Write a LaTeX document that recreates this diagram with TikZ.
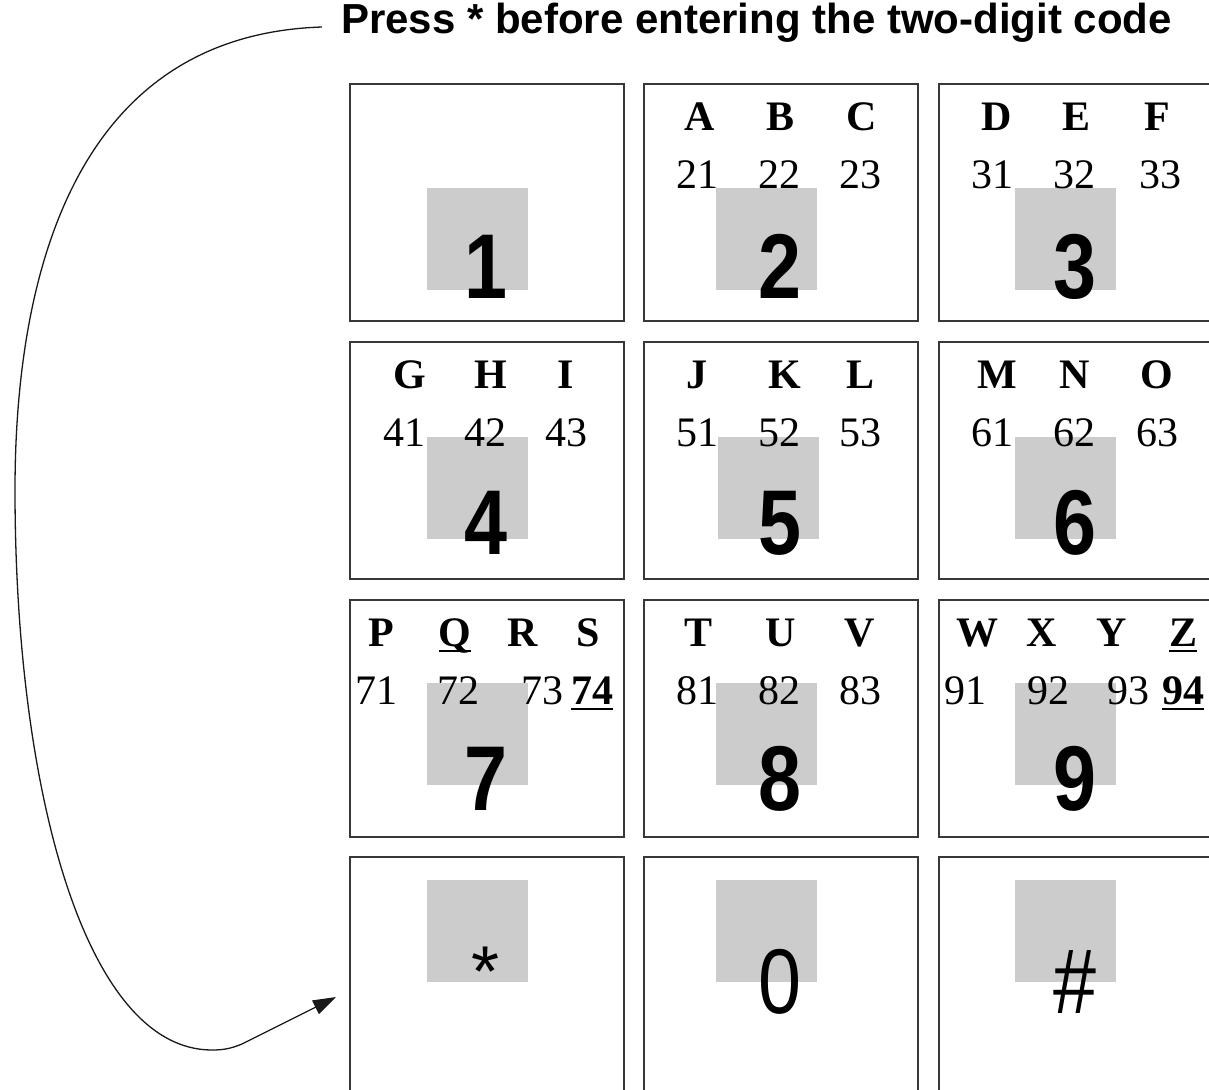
\documentclass[tikz,border=0pt]{standalone}
\usepackage{fontspec}
\setmainfont{Liberation Serif}
\newfontfamily\arialfont{Liberation Sans}
\usetikzlibrary{arrows.meta}
\newcommand\myul[1]{\setbox0\hbox{#1}\rlap{\rule[-6pt]{\wd0}{2.4pt}}\box0}
\newcommand\bigdig[1]{\scalebox{0.84}[1]{#1}}
\begin{document}
\begin{tikzpicture}[x=1pt,y=-1pt,
  keybox/.style={draw=black!78, line width=2pt, anchor=north west, inner sep=0pt,
                 minimum width=274pt, minimum height=237pt},
  graysq/.style={fill=black!20, anchor=north west, inner sep=0pt,
                 minimum width=101pt, minimum height=102pt},
  letter/.style={anchor=base, inner sep=0pt, font=\fontsize{42}{48}\selectfont\bfseries},
  num/.style={anchor=base, inner sep=0pt, font=\fontsize{42}{48}\selectfont},
  bignum/.style={anchor=base, inner sep=0pt, font=\arialfont\fontsize{92}{92}\selectfont\bfseries},
  bigsym/.style={anchor=base, inner sep=0pt, font=\arialfont\fontsize{92}{92}\selectfont},
  titlestyle/.style={anchor=base west, inner sep=0pt, font=\arialfont\bfseries\fontsize{42}{48}\selectfont},
  conn/.style={draw=black!90, line width=1.3pt, -{Triangle[length=23pt,width=15pt]}}
]
\useasboundingbox (0,0) rectangle (1209,1089);
\clip (0,0) rectangle (1209,1089);

% key boxes
\node[keybox] (k1) at (349,83) {};
\node[keybox] (k2) at (643,83) {};
\node[keybox] (k3) at (938,83) {};
\node[keybox] (k4) at (349,341) {};
\node[keybox] (k5) at (643,341) {};
\node[keybox] (k6) at (938,341) {};
\node[keybox] (k7) at (349,599) {};
\node[keybox] (k8) at (643,599) {};
\node[keybox] (k9) at (938,599) {};
\node[keybox] (kstar) at (349,856) {};
\node[keybox] (k0) at (643,856) {};
\node[keybox] (khash) at (938,856) {};

% grey squares
\node[graysq] (g1) at (427,188) {};
\node[graysq] (g2) at (716,188) {};
\node[graysq] (g3) at (1015,188) {};
\node[graysq] (g4) at (427,437) {};
\node[graysq] (g5) at (718,437) {};
\node[graysq] (g6) at (1015,437) {};
\node[graysq] (g7) at (427,683) {};
\node[graysq] (g8) at (716,683) {};
\node[graysq] (g9) at (1015,683) {};
\node[graysq] (gstar) at (427,880) {};
\node[graysq] (g0) at (716,880) {};
\node[graysq] (ghash) at (1015,880) {};

% title
\node[titlestyle] (title) at (341,34) {Press * before entering the two-digit code};

% row 1 letters / numbers
\node[letter] (lA) at (700,130) {A};
\node[letter] (lB) at (780,130) {B};
\node[letter] (lC) at (862,130) {C};
\node[num] (n21) at (697,188) {21};
\node[num] (n22) at (779,188) {22};
\node[num] (n23) at (860,188) {23};
\node[letter] (lD) at (997,130) {D};
\node[letter] (lE) at (1076,130) {E};
\node[letter] (lF) at (1157,130) {F};
\node[num] (n31) at (992,188) {31};
\node[num] (n32) at (1074,188) {32};
\node[num] (n33) at (1160,188) {33};

% row 2
\node[letter] (lG) at (410,388) {G};
\node[letter] (lH) at (491,388) {H};
\node[letter] (lI) at (566,388) {I};
\node[num] (n41) at (404,446) {41};
\node[num] (n42) at (485,446) {42};
\node[num] (n43) at (566,446) {43};
\node[letter] (lJ) at (697,388) {J};
\node[letter] (lK) at (785,388) {K};
\node[letter] (lL) at (860,388) {L};
\node[num] (n51) at (697,446) {51};
\node[num] (n52) at (779,446) {52};
\node[num] (n53) at (860,446) {53};
\node[letter] (lM) at (997,388) {M};
\node[letter] (lN) at (1075,388) {N};
\node[letter] (lO) at (1157,388) {O};
\node[num] (n61) at (992,446) {61};
\node[num] (n62) at (1074,446) {62};
\node[num] (n63) at (1157,446) {63};

% row 3
\node[letter] (lP) at (381,646) {P};
\node[letter] (lQ) at (455,646) {\myul{Q}};
\node[letter] (lR) at (523,646) {R};
\node[letter] (lS) at (588,646) {S};
\node[num] (n71) at (376,704) {71};
\node[num] (n72) at (458,704) {72};
\node[num] (n73) at (542,704) {73};
\node[num] (n74) at (592,704) {\bfseries\myul{74}};
\node[letter] (lT) at (698,646) {T};
\node[letter] (lU) at (781,646) {U};
\node[letter] (lV) at (860,646) {V};
\node[num] (n81) at (697,704) {81};
\node[num] (n82) at (779,704) {82};
\node[num] (n83) at (860,704) {83};
\node[letter] (lW) at (977,646) {W};
\node[letter] (lX) at (1042,646) {X};
\node[letter] (lY) at (1112,646) {Y};
\node[letter] (lZ) at (1183,646) {\myul{Z}};
\node[num] (n91) at (965,704) {91};
\node[num] (n92) at (1048,704) {92};
\node[num] (n93) at (1128,704) {93};
\node[num] (n94) at (1183,704) {\bfseries\myul{94}};

% big digits
\node[bignum] (d1) at (486,298) {\bigdig{1}};
\node[bignum] (d2) at (780,298) {\bigdig{2}};
\node[bignum] (d3) at (1075,298) {\bigdig{3}};
\node[bignum] (d4) at (486,554) {\bigdig{4}};
\node[bignum] (d5) at (780,554) {\bigdig{5}};
\node[bignum] (d6) at (1075,554) {\bigdig{6}};
\node[bignum] (d7) at (486,810) {\bigdig{7}};
\node[bignum] (d8) at (780,810) {\bigdig{8}};
\node[bignum] (d9) at (1075,810) {\bigdig{9}};
\node[bigsym, anchor=north, font=\arialfont\fontsize{72}{72}\selectfont] (dstar) at (486,947) {*};
\node[bigsym] (d0) at (780,1013) {\bigdig{0}};
\node[bigsym] (dhash) at (1075,1013) {\bigdig{\#}};

% connector
\coordinate (cs) at (322,27);
\coordinate (tip) at (336,997);
\draw[conn] (cs) .. controls (72,35) and (15,280) .. (15,490)
  .. controls (15,790) and (85,1050) .. (212,1050)
  .. controls (225,1050) and (232,1048) .. (242,1044) -- (tip);
\end{tikzpicture}
\end{document}
